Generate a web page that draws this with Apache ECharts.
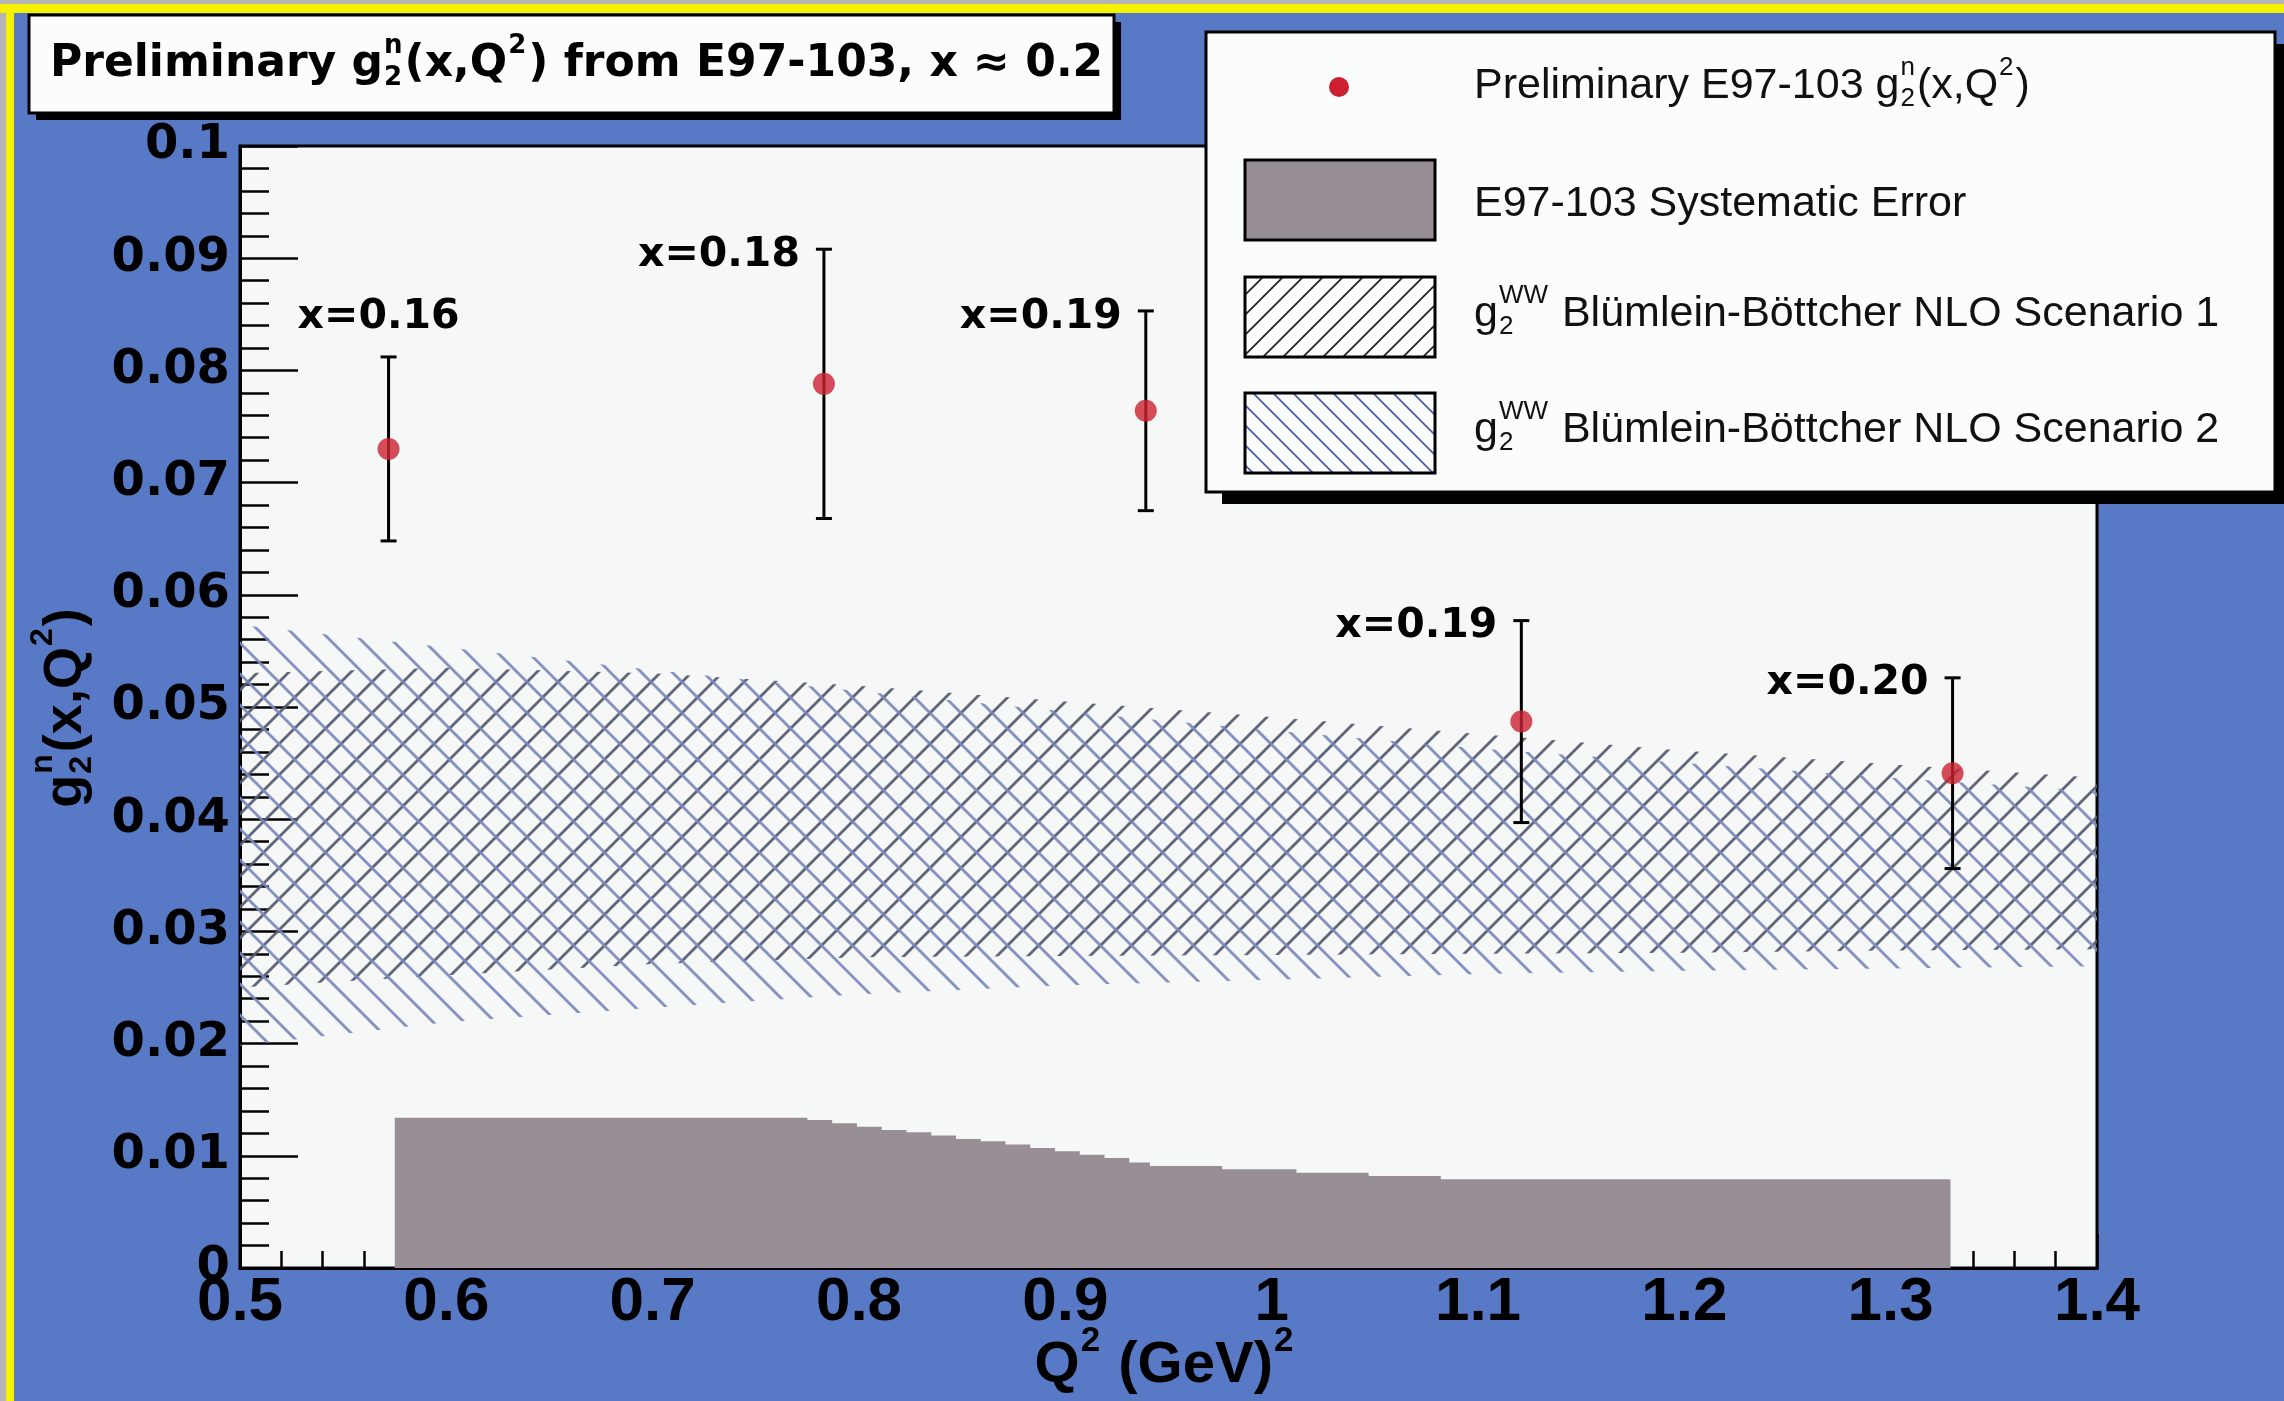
<!DOCTYPE html>
<html>
<head>
<meta charset="utf-8">
<script src="https://cdn.jsdelivr.net/npm/echarts@6/dist/echarts.min.js"></script>
<style>
  html, body { margin: 0; padding: 0; background: #5879c6; }
  #chart { width: 2284px; height: 1401px; }
</style>
</head>
<body>
<div id="chart"></div>
<script>
// Preliminary neutron g2(x,Q^2) from E97-103 at x ~ 0.2
const q2Points = [0.572, 0.783, 0.939, 1.121, 1.330];
const g2Values = [0.0730, 0.0788, 0.0764, 0.0487, 0.0441];
const g2Errors = [0.0082, 0.0120, 0.0089, 0.0090, 0.0085];
const xBjorken = ['0.16', '0.18', '0.19', '0.19', '0.20'];
const labelSide = ['top', 'left', 'left', 'left', 'left'];

// Systematic error histogram: bin left edges and heights (last entry closes the final bin)
const sysQ2  = [0.575, 0.775, 0.787, 0.799, 0.811, 0.823, 0.835, 0.847, 0.859, 0.871, 0.883, 0.895, 0.907, 0.919, 0.931, 0.941, 0.976, 1.012, 1.047, 1.082, 1.329];
const sysErr = [0.0134, 0.0132, 0.0129, 0.0126, 0.0123, 0.0121, 0.0118, 0.0115, 0.0113, 0.0110, 0.0107, 0.0104, 0.0101, 0.0098, 0.0094, 0.0091, 0.0088, 0.0085, 0.0082, 0.0079, 0.0079];

// g2^WW bands, Bluemlein-Boettcher NLO
const wwQ2     = [0.5, 0.6, 0.7, 0.8, 0.9, 1.0, 1.1, 1.2, 1.3, 1.4];
const ww1Upper = [0.0530, 0.0535, 0.0530, 0.0519, 0.0505, 0.0491, 0.0476, 0.0461, 0.0449, 0.0437];
const ww1Lower = [0.0250, 0.0261, 0.0271, 0.0277, 0.0278, 0.0279, 0.0280, 0.0281, 0.0283, 0.0284];
const ww2Upper = [0.0573, 0.0553, 0.0533, 0.0514, 0.0496, 0.0479, 0.0463, 0.0450, 0.0437, 0.0425];
const ww2Lower = [0.0198, 0.0219, 0.0232, 0.0244, 0.0252, 0.0257, 0.0262, 0.0265, 0.0267, 0.0269];

const legendLabels = {
  data: ['Preliminary E97-103 g', { sup: 'n', sub: '2' }, '(x,Q', { sup: '2' }, ')'],
  sys: ['E97-103 Systematic Error'],
  ww1: ['g', { sup: 'WW', sub: '2' }, ' Blümlein-Böttcher NLO Scenario 1'],
  ww2: ['g', { sup: 'WW', sub: '2' }, ' Blümlein-Böttcher NLO Scenario 2']
};
const titleParts = ['Preliminary g', { sup: 'n', sub: '2' }, '(x,Q', { sup: '2' }, ') from E97-103, x ≈ 0.2'];
const xTitleParts = ['Q', { sup: '2' }, ' (GeV)', { sup: '2' }];
const yTitleParts = ['g', { sup: 'n', sub: '2' }, '(x,Q', { sup: '2' }, ')'];

// ---- helpers ----
const measureCtx = document.createElement('canvas').getContext('2d');
function measure(str, font) { measureCtx.font = font; return measureCtx.measureText(str).width; }

function hatchTile(period, dir, color, width) {
  const c = document.createElement('canvas');
  c.width = c.height = period;
  const ctx = c.getContext('2d');
  ctx.strokeStyle = color;
  ctx.lineWidth = width;
  for (let k = -1; k <= 1; k++) {
    ctx.beginPath();
    if (dir === '/') {
      ctx.moveTo(k * period - period, 2 * period);
      ctx.lineTo(k * period + 2 * period, -period);
    } else {
      ctx.moveTo(k * period - period, -period);
      ctx.lineTo(k * period + 2 * period, 2 * period);
    }
    ctx.stroke();
  }
  return { image: c, repeat: 'repeat' };
}

const plotHatch1 = hatchTile(31, '/', 'rgba(84,90,108,0.92)', 2.8);
const plotHatch2 = hatchTile(31, '\\', 'rgba(122,136,188,0.92)', 2.8);
const keyHatch1 = hatchTile(20, '/', '#222', 1.7);
const keyHatch2 = hatchTile(20, '\\', '#4a5aa8', 1.7);

function txt(s, x, y, font, fill, z2) {
  return { type: 'text', x, y, z: 50, z2: z2 || 3,
    style: { text: s, font, fill, align: 'left', verticalAlign: 'middle' } };
}

// lays out text with stacked super/subscripts; returns children and total width
function scriptText(parts, size, weight, family, color) {
  const main = `${weight} ${size}px ${family}`;
  const small = `${weight} ${Math.round(size * 0.6)}px ${family}`;
  const kids = [];
  let x = 0;
  parts.forEach(p => {
    if (typeof p === 'string') {
      kids.push(txt(p, x, 0, main, color));
      x += measure(p, main);
    } else {
      let w = 0;
      if (p.sup) { kids.push(txt(p.sup, x + 1, -size * 0.42, small, color)); w = Math.max(w, measure(p.sup, small)); }
      if (p.sub) { kids.push(txt(p.sub, x + 1, size * 0.30, small, color)); w = Math.max(w, measure(p.sub, small)); }
      x += w + 3;
    }
  });
  return { kids, width: x };
}

function textGroup(parts, size, weight, family, x, y, opts) {
  opts = opts || {};
  const r = scriptText(parts, size, weight, family, opts.color || '#000');
  const shift = opts.center ? -r.width / 2 : 0;
  r.kids.forEach(k => { k.x += shift; });
  return { type: 'group', x, y, rotation: opts.rotation || 0, z: 50, children: r.kids };
}

const BOLD = '"DejaVu Sans"';
const SANS = '"Liberation Sans"';

// ---- frame decorations, title and key ----
const graphics = [
  { type: 'rect', z: 40, z2: 0, shape: { x: 0, y: 0, width: 2284, height: 4 }, style: { fill: '#b4b4b4' } },
  { type: 'rect', z: 40, z2: 1, shape: { x: 0, y: 4, width: 2284, height: 9 }, style: { fill: '#f4f200' } },
  { type: 'rect', z: 40, z2: 0, shape: { x: 0, y: 0, width: 6, height: 1401 }, style: { fill: '#b4b4b4' } },
  { type: 'rect', z: 40, z2: 1, shape: { x: 6, y: 4, width: 8, height: 1397 }, style: { fill: '#f4f200' } },

  // title box
  { type: 'rect', z: 50, z2: 0, shape: { x: 36, y: 22, width: 1085, height: 98 }, style: { fill: '#000' } },
  { type: 'rect', z: 50, z2: 1, shape: { x: 29, y: 15, width: 1085, height: 98 }, style: { fill: '#fbfcfc', stroke: '#000', lineWidth: 3 } },
  textGroup(titleParts, 44, 'bold', BOLD, 50, 65),

  // key box
  { type: 'rect', z: 50, z2: 0, shape: { x: 1222, y: 44, width: 1069, height: 460 }, style: { fill: '#000' } },
  { type: 'rect', z: 50, z2: 1, shape: { x: 1206, y: 32, width: 1069, height: 460 }, style: { fill: '#fbfcfc', stroke: '#000', lineWidth: 3 } },
  { type: 'circle', z: 50, z2: 2, shape: { cx: 1339, cy: 87, r: 10 }, style: { fill: '#cc2030' } },
  { type: 'rect', z: 50, z2: 2, shape: { x: 1245, y: 160, width: 190, height: 80 }, style: { fill: '#978f95', stroke: '#000', lineWidth: 3 } },
  { type: 'rect', z: 50, z2: 2, shape: { x: 1245, y: 277, width: 190, height: 80 }, style: { fill: keyHatch1, stroke: '#000', lineWidth: 3 } },
  { type: 'rect', z: 50, z2: 2, shape: { x: 1245, y: 393, width: 190, height: 80 }, style: { fill: keyHatch2, stroke: '#000', lineWidth: 3 } },
  textGroup(legendLabels.data, 43, 'normal', SANS, 1474, 86, { color: '#111' }),
  textGroup(legendLabels.sys, 43, 'normal', SANS, 1474, 204, { color: '#111' }),
  textGroup(legendLabels.ww1, 43, 'normal', SANS, 1474, 314, { color: '#111' }),
  textGroup(legendLabels.ww2, 43, 'normal', SANS, 1474, 430, { color: '#111' }),

  // axis titles
  textGroup(xTitleParts, 58, 'bold', SANS, 1165, 1366, { center: true }),
  textGroup(yTitleParts, 54, 'bold', SANS, 66, 708, { center: true, rotation: Math.PI / 2 })
];

function bandSeries(name, upper, lower, fill) {
  return {
    type: 'custom', name, silent: true, clip: true, z: 3,
    data: [[wwQ2[0], upper[0]]],
    renderItem: (params, api) => {
      const top = wwQ2.map((q, i) => api.coord([q, upper[i]]));
      const bottom = wwQ2.map((q, i) => api.coord([q, lower[i]])).reverse();
      return { type: 'polygon', shape: { points: top.concat(bottom) }, style: { fill, stroke: null } };
    }
  };
}

const tickStyle = { color: '#000', width: 2.5 };

const option = {
  animation: false,
  backgroundColor: '#5879c6',
  grid: { left: 240, right: 187, top: 146, bottom: 133, show: true,
          backgroundColor: '#f6f8f8', borderColor: '#000', borderWidth: 3 },
  xAxis: {
    type: 'value', min: 0.5, max: 1.4, interval: 0.1,
    axisLine: { show: true, onZero: false, lineStyle: { color: '#000', width: 3 } },
    axisTick: { show: true, inside: true, length: 34, lineStyle: tickStyle },
    minorTick: { show: true, splitNumber: 5, length: 17, lineStyle: tickStyle },
    splitLine: { show: false },
    axisLabel: { margin: 4, color: '#000', fontFamily: 'Liberation Sans', fontWeight: 'bold', fontSize: 62,
                 formatter: v => String(+v.toFixed(2)) }
  },
  yAxis: {
    type: 'value', min: 0, max: 0.1, interval: 0.01,
    axisLine: { show: true, onZero: false, lineStyle: { color: '#000', width: 3 } },
    axisTick: { show: true, inside: true, length: 58, lineStyle: tickStyle },
    minorTick: { show: true, splitNumber: 5, length: 29, lineStyle: tickStyle },
    splitLine: { show: false },
    axisLabel: { margin: 10, color: '#000', fontFamily: 'DejaVu Sans', fontWeight: 'bold', fontSize: 48,
                 formatter: v => String(+v.toFixed(3)) }
  },
  graphic: graphics,
  series: [
    {
      type: 'line', name: 'E97-103 Systematic Error', step: 'end', symbol: 'none', silent: true, z: 2,
      data: sysQ2.map((q, i) => [q, sysErr[i]]),
      lineStyle: { width: 0, color: '#978f95' },
      itemStyle: { color: '#978f95' },
      areaStyle: { color: '#978f95', opacity: 1 }
    },
    bandSeries('g2WW Scenario 1', ww1Upper, ww1Lower, plotHatch1),
    bandSeries('g2WW Scenario 2', ww2Upper, ww2Lower, plotHatch2),
    {
      type: 'custom', name: 'error bars', silent: true, z: 4,
      data: q2Points.map((q, i) => [q, g2Values[i] - g2Errors[i], g2Values[i] + g2Errors[i], i]),
      renderItem: (params, api) => {
        const q = api.value(0), lo = api.value(1), hi = api.value(2), idx = api.value(3);
        const pLo = api.coord([q, lo]);
        const pHi = api.coord([q, hi]);
        const cap = 8;
        const ls = { stroke: '#000', lineWidth: 3 };
        const label = 'x=' + xBjorken[idx];
        const font = 'bold 41px "DejaVu Sans"';
        const lab = labelSide[idx] === 'top'
          ? { type: 'text', x: pHi[0] - 10, y: pHi[1] - 40, style: { text: label, font, fill: '#000', align: 'center', verticalAlign: 'middle' } }
          : { type: 'text', x: pHi[0] - 24, y: pHi[1] + 6, style: { text: label, font, fill: '#000', align: 'right', verticalAlign: 'middle' } };
        return {
          type: 'group',
          children: [
            { type: 'line', shape: { x1: pLo[0], y1: pLo[1], x2: pHi[0], y2: pHi[1] }, style: ls },
            { type: 'line', shape: { x1: pHi[0] - cap, y1: pHi[1], x2: pHi[0] + cap, y2: pHi[1] }, style: ls },
            { type: 'line', shape: { x1: pLo[0] - cap, y1: pLo[1], x2: pLo[0] + cap, y2: pLo[1] }, style: ls },
            lab
          ]
        };
      }
    },
    {
      type: 'scatter', name: 'Preliminary E97-103', symbol: 'circle', symbolSize: 22, z: 5, silent: true,
      data: q2Points.map((q, i) => [q, g2Values[i]]),
      itemStyle: { color: '#cc2030' }
    }
  ]
};

const chart = echarts.init(document.getElementById('chart'), null, { renderer: 'canvas' });
chart.setOption(option);
</script>
</body>
</html>
